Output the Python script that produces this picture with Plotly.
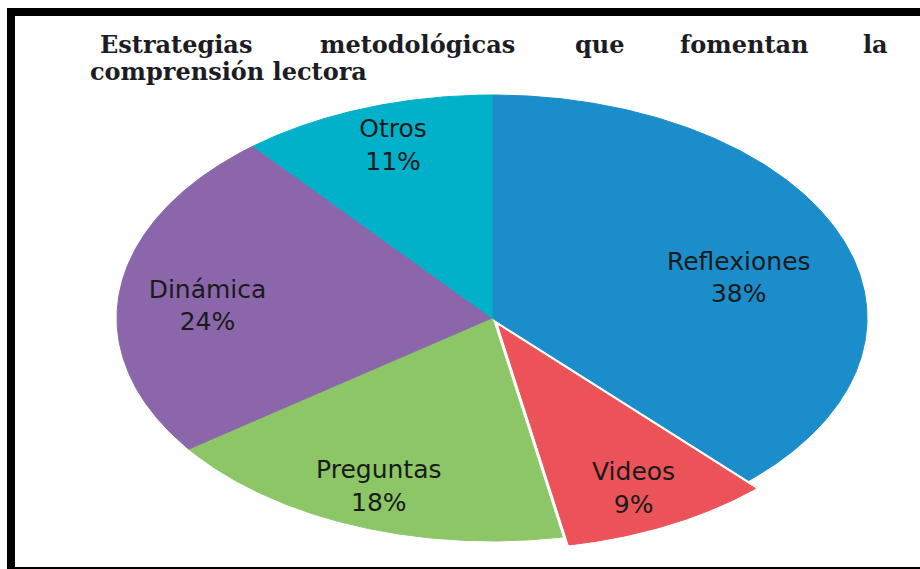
import numpy as np
import plotly.graph_objects as go

# ---- data ----
categories = ["Reflexiones", "Videos", "Preguntas", "Dinámica", "Otros"]
values = [38, 9, 18, 24, 11]
pct_labels = ["38%", "9%", "18%", "24%", "11%"]
title_line1 = ["Estrategias", "metodológicas", "que", "fomentan", "la"]
title_line2 = "comprensión lectora"

# ---- style ----
colors = ["#1b8dcb", "#ec5359", "#8cc666", "#8b66ab", "#00b1c9"]
pulls = [0, 0.04, 0, 0, 0]
label_r = [0.68, 0.82, 0.82, 0.76, 0.81]
label_dangle = [7.0, 1.0, 0.0, -3.8, 0.8]  # degrees
title_word_cx = [176, 417, 600, 744, 875]  # px centres (justified line)

W, H = 920, 569
cx, cy = 492, 318        # pie centre in px (from top-left)
rx, ry = 375, 223        # elliptical radii in px

fig = go.Figure()
total = float(sum(values))
acc = 0.0
lab_x, lab_y, lab_t = [], [], []
for cat, v, pct, col, pull, lr, da in zip(categories, values, pct_labels,
                                           colors, pulls, label_r, label_dangle):
    a0 = acc / total * 2 * np.pi
    a1 = (acc + v) / total * 2 * np.pi
    mid = (a0 + a1) / 2
    ox, oy = pull * np.sin(mid), pull * np.cos(mid)
    t = np.linspace(a0, a1, 240)
    xs = np.concatenate([[ox], ox + np.sin(t), [ox]])
    ys = np.concatenate([[oy], oy + np.cos(t), [oy]])
    fig.add_trace(go.Scatter(
        x=xs, y=ys, mode="lines", fill="toself", fillcolor=col,
        line=dict(color=col, width=1), hoverinfo="skip", showlegend=False,
        name=cat))
    la = mid + np.deg2rad(da)
    lab_x.append(ox + lr * np.sin(la))
    lab_y.append(oy + lr * np.cos(la))
    lab_t.append(f"{cat}<br>{pct}")
    acc += v

fig.add_trace(go.Scatter(
    x=lab_x, y=lab_y, mode="text", text=lab_t, textposition="middle center",
    textfont=dict(family="DejaVu Sans", size=25, color="#1a1a1a"),
    hoverinfo="skip", showlegend=False))

title_font = dict(family="DejaVu Serif", size=24, color="#1c1c24", weight="bold")
annotations = []
for word, px in zip(title_line1, title_word_cx):
    annotations.append(dict(
        text=word, x=px / W, y=1 - 44 / H, xref="paper", yref="paper",
        xanchor="center", yanchor="middle", showarrow=False, font=title_font))
annotations.append(dict(
    text=title_line2, x=88 / W, y=1 - 72 / H, xref="paper", yref="paper",
    xanchor="left", yanchor="middle", showarrow=False, font=title_font))

shapes = [
    dict(type="rect", xref="paper", yref="paper", x0=7 / W, x1=1.0,
         y0=1 - 16 / H, y1=1 - 8 / H, fillcolor="black", line=dict(width=0)),
    dict(type="rect", xref="paper", yref="paper", x0=7 / W, x1=15 / W,
         y0=0, y1=1 - 8 / H, fillcolor="black", line=dict(width=0)),
    dict(type="rect", xref="paper", yref="paper", x0=7 / W, x1=1.0,
         y0=0, y1=2 / H, fillcolor="black", line=dict(width=0)),
]

fig.update_layout(
    width=W, height=H, margin=dict(l=0, r=0, t=0, b=0),
    paper_bgcolor="white", plot_bgcolor="white",
    xaxis=dict(range=[-cx / rx, (W - cx) / rx], visible=False, fixedrange=True),
    yaxis=dict(range=[-(H - cy) / ry, cy / ry], visible=False, fixedrange=True),
    annotations=annotations, shapes=shapes, showlegend=False,
)

fig.write_html(
    "out.html",
    config={"displayModeBar": False},
    post_script="document.body.style.margin='0';document.body.style.overflow='hidden';",
)
